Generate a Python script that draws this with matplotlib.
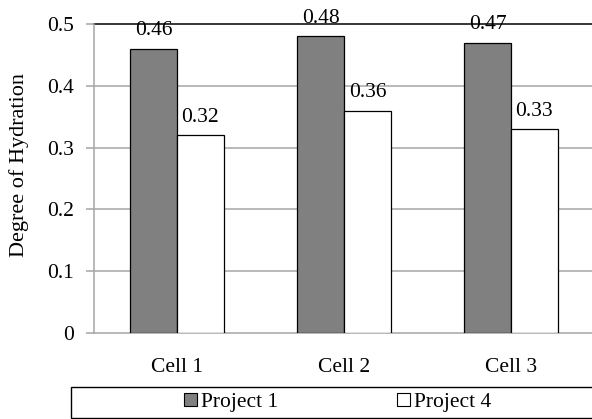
import matplotlib
matplotlib.use("Agg")
import matplotlib.pyplot as plt
import numpy as np
from matplotlib.patches import Rectangle

categories = ["Cell 1", "Cell 2", "Cell 3"]
series_names = ["Project 1", "Project 4"]
project1 = [0.46, 0.48, 0.47]
project4 = [0.32, 0.36, 0.33]
yticks = [0, 0.1, 0.2, 0.3, 0.4, 0.5]
ytick_labels = ["0", "0.1", "0.2", "0.3", "0.4", "0.5"]

plt.rcParams["font.family"] = ["Liberation Serif", "DejaVu Serif"]

W, H = 592, 419
fig = plt.figure(figsize=(W / 100, H / 100), dpi=100)

# plot area in pixel terms
left_px, right_px, top_px, bottom_px = 93.5, 594.5, 24, 333
ax = fig.add_axes([left_px / W, (H - bottom_px) / H,
                   (right_px - left_px) / W, (bottom_px - top_px) / H])

x = np.arange(len(categories))
bw = 0.28
gray_fill = "#808080"
fs = 15.5
ax.bar(x - bw / 2, project1, bw, color=gray_fill, edgecolor="black", linewidth=0.9, zorder=3)
ax.bar(x + bw / 2, project4, bw, color="white", edgecolor="black", linewidth=0.9, zorder=3)

ax.set_xlim(-0.5, len(categories) - 0.5)
ax.set_ylim(0, 0.5)
ax.set_yticks(yticks)
ax.set_yticklabels(ytick_labels)
ax.set_xticks(x)
ax.set_xticklabels(categories)

grid_c = "#a6a6a6"
for t in yticks[1:-1]:
    ax.axhline(t, color=grid_c, linewidth=1.1, zorder=1)
ax.axhline(0.5, color="black", linewidth=1.1, zorder=2, clip_on=False)

for s in ["top", "right"]:
    ax.spines[s].set_visible(False)
ax.spines["left"].set_color(grid_c)
ax.spines["left"].set_linewidth(1.1)
ax.spines["bottom"].set_color(grid_c)
ax.spines["bottom"].set_linewidth(1.1)
ax.tick_params(axis="y", length=6, width=1.1, color=grid_c, labelsize=fs, pad=8)
ax.tick_params(axis="x", length=0, labelsize=fs, pad=18)

ax.set_ylabel("Degree of Hydration", fontsize=16)
ax.yaxis.set_label_coords((29 - left_px) / (right_px - left_px),
                          (bottom_px - 165) / (bottom_px - top_px))

for xi, v in zip(x - bw / 2, project1):
    ax.text(xi, v + 0.0135, f"{v:.2f}", ha="center", va="bottom", fontsize=fs, zorder=4)
for xi, v in zip(x + bw / 2, project4):
    ax.text(xi, v + 0.0135, f"{v:.2f}", ha="center", va="bottom", fontsize=fs, zorder=4)

# legend frame spanning the bottom
fig.patches.append(Rectangle((71 / W, (H - 418) / H), (600 - 71) / W, 31 / H,
                             transform=fig.transFigure, facecolor="white",
                             edgecolor="black", linewidth=1.0))
handles = [Rectangle((0, 0), 1, 1, facecolor=gray_fill, edgecolor="black", linewidth=0.8),
           Rectangle((0, 0), 1, 1, facecolor="white", edgecolor="black", linewidth=0.8)]
fig.legend(handles, series_names, loc="center", ncol=2,
           bbox_to_anchor=(337.5 / W, (H - 402.5) / H), frameon=False,
           fontsize=fs, handlelength=0.6, handleheight=0.6, handletextpad=0.19,
           columnspacing=5.5, borderpad=0)

fig.savefig("out.png", dpi=100)
